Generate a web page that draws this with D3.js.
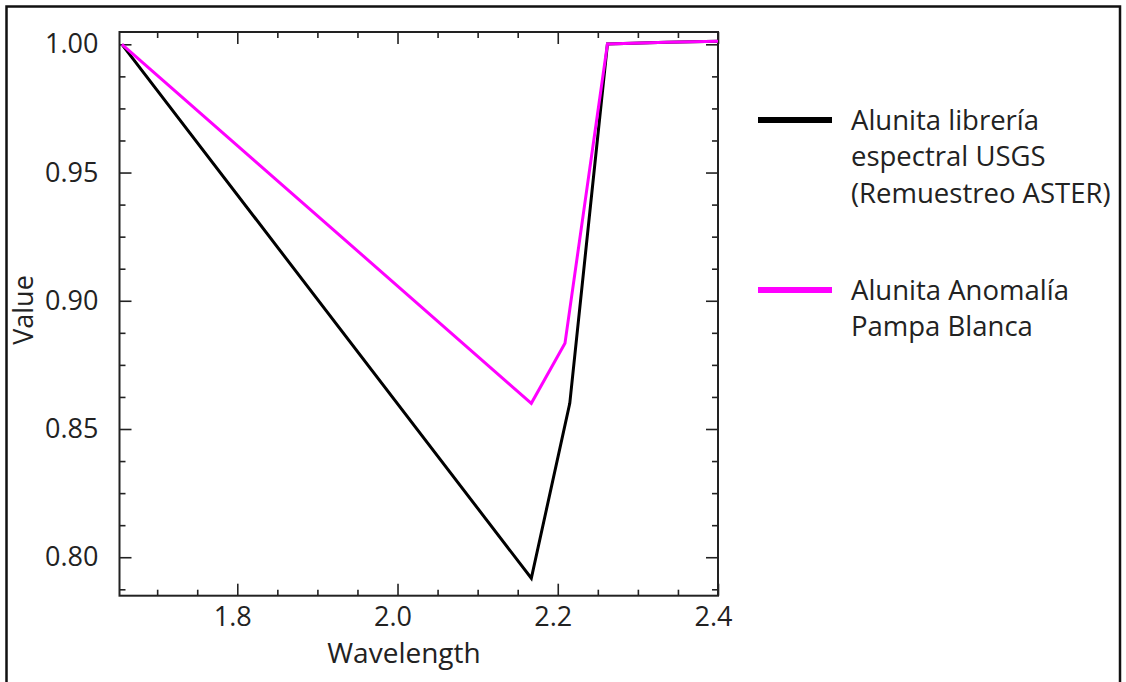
<!DOCTYPE html>
<html lang="es">
<head>
  <meta charset="UTF-8">
  <title>Alunita</title>
  <script src="https://d3js.org/d3.v7.min.js"></script>
  <style>
    body { margin: 0; background: #fff; }
    svg { display: block; font-family: "Open Sans", sans-serif; }
    .tick text { fill: #222; }
    .tick line { stroke: #222; stroke-width: 1.6; }
  </style>
</head>
<body>
  <svg width="1126" height="682"></svg>
  <script>
    // Wavelength (x) and reflectance values
    const usgsWave  = [1.656, 2.167, 2.215, 2.262, 2.336, 2.400];
    const usgsValue = [1.000, 0.7918, 0.860, 1.0001, 1.0008, 1.0012];
    const pampaWave  = [1.656, 2.167, 2.209, 2.262, 2.336, 2.400];
    const pampaValue = [1.000, 0.860, 0.8834, 1.0001, 1.0008, 1.0012];

    const seriesNames = [
      ["Alunita librería", "espectral USGS", "(Remuestreo ASTER)"],
      ["Alunita Anomalía", "Pampa Blanca"]
    ];
    const seriesColors = ["#000000", "#ff00ff"];

    const xTicks = [1.8, 2.0, 2.2, 2.4];
    const yTicks = [0.80, 0.85, 0.90, 0.95, 1.00];

    const plot = { left: 119.5, right: 718, top: 32, bottom: 595.7 };

    const svg = d3.select("svg");

    // outer frame of the figure
    svg.append("rect")
      .attr("x", 6.5).attr("y", 6.5)
      .attr("width", 1113.5).attr("height", 700)
      .attr("fill", "none").attr("stroke", "#111").attr("stroke-width", 2.5);

    const x = d3.scaleLinear().domain([1.653, 2.400]).range([plot.left, plot.right]);
    const y = d3.scaleLinear().domain([0.785, 1.0048]).range([plot.bottom, plot.top]);

    const xMinor = d3.range(1.70, 2.351, 0.05).filter(v => !xTicks.some(t => Math.abs(t - v) < 1e-6));
    const yMinor = d3.range(0.7875, 1.0001, 0.0125).filter(v => !yTicks.some(t => Math.abs(t - v) < 1e-6));

    function drawAxis(axisFn, scale, transform, major, minor, fmt, pad) {
      const gMaj = svg.append("g").attr("transform", transform)
        .call(axisFn(scale).tickValues(major).tickSizeInner(-12).tickSizeOuter(0)
          .tickPadding(pad).tickFormat(fmt));
      const gMin = svg.append("g").attr("transform", transform)
        .call(axisFn(scale).tickValues(minor).tickSizeInner(-6).tickSizeOuter(0).tickFormat(""));
      gMaj.select(".domain").remove();
      gMin.select(".domain").remove();
      return gMaj;
    }

    const none = () => "";
    const xb = drawAxis(d3.axisBottom, x, `translate(0,${plot.bottom})`, xTicks, xMinor, d3.format(".1f"), 11);
    drawAxis(d3.axisTop, x, `translate(0,${plot.top})`, xTicks, xMinor, none, 0);
    const yl = drawAxis(d3.axisLeft, y, `translate(${plot.left},0)`, yTicks, yMinor, d3.format(".2f"), 21);
    drawAxis(d3.axisRight, y, `translate(${plot.right},0)`, yTicks, yMinor, none, 0);

    xb.selectAll("text").attr("font-size", 27).attr("font-family", "Open Sans").attr("dx", -5);
    yl.selectAll("text").attr("font-size", 27).attr("font-family", "Open Sans");

    // plot frame
    svg.append("rect")
      .attr("x", plot.left).attr("y", plot.top)
      .attr("width", plot.right - plot.left).attr("height", plot.bottom - plot.top)
      .attr("fill", "none").attr("stroke", "#222").attr("stroke-width", 2);

    // lines
    const line = d3.line().x(d => x(d[0])).y(d => y(d[1]));
    const series = [
      d3.zip(usgsWave, usgsValue),
      d3.zip(pampaWave, pampaValue)
    ];
    svg.append("defs").append("clipPath").attr("id", "clip")
      .append("rect").attr("x", plot.left).attr("y", plot.top)
      .attr("width", plot.right - plot.left).attr("height", plot.bottom - plot.top);

    svg.append("g").attr("clip-path", "url(#clip)")
      .selectAll("path")
      .data(series)
      .join("path")
      .attr("d", line)
      .attr("fill", "none")
      .attr("stroke", (d, i) => seriesColors[i])
      .attr("stroke-width", 3)
      .attr("stroke-linejoin", "miter");

    // axis titles
    svg.append("text")
      .attr("x", 404).attr("y", 663)
      .attr("text-anchor", "middle").attr("font-size", 28).attr("fill", "#222")
      .text("Wavelength");

    svg.append("text")
      .attr("transform", "translate(33,310) rotate(-90)")
      .attr("text-anchor", "middle").attr("font-size", 27).attr("fill", "#222")
      .text("Value");

    // legend
    const legendTop = [120, 290];
    const lg = svg.append("g");
    seriesNames.forEach((lines, i) => {
      lg.append("line")
        .attr("x1", 758).attr("x2", 832)
        .attr("y1", legendTop[i]).attr("y2", legendTop[i])
        .attr("stroke", seriesColors[i]).attr("stroke-width", 6);
      lines.forEach((t, j) => {
        lg.append("text")
          .attr("x", 851).attr("y", legendTop[i] + j * 36.5)
          .attr("dy", "0.36em")
          .attr("font-size", 27.5).attr("fill", "#222")
          .text(t);
      });
    });
  </script>
</body>
</html>
